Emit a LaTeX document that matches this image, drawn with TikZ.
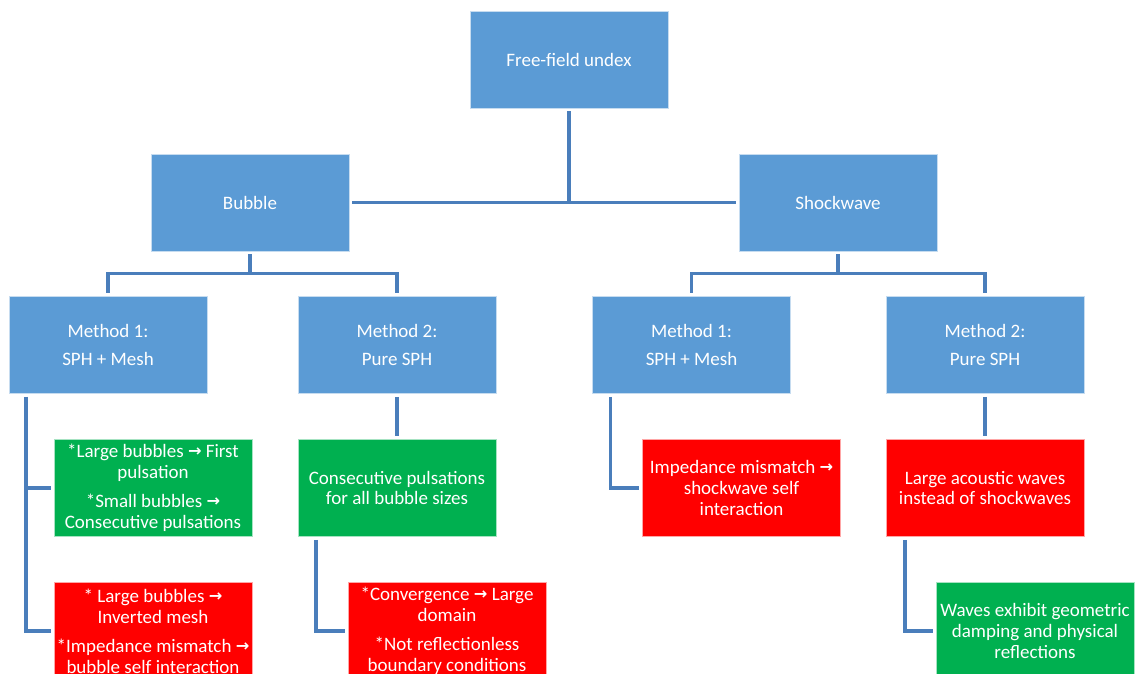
\documentclass[tikz,border=0pt]{standalone}
\usepackage{fontspec}
\setmainfont{Carlito}
\newfontfamily\arrowfont{DejaVu Sans}
\newcommand{\rarr}{\raisebox{0.6pt}{\arrowfont\bfseries\fontsize{11.5}{11.5}\selectfont →}}
\definecolor{boxblue}{HTML}{5B9BD5}
\definecolor{boxgreen}{HTML}{00B050}
\definecolor{boxred}{HTML}{FF0000}
\definecolor{linkblue}{HTML}{4A7EBB}

\begin{document}
\begin{tikzpicture}[x=0.025cm,y=0.025cm,
    bx/.style={rectangle,minimum width=4.95cm,minimum height=2.425cm,inner sep=0pt,outer sep=2.4pt,
        text=white,align=center,line width=0.4pt,font=\fontsize{13.5}{14.9}\selectfont},
    bl/.style={bx,fill=boxblue,draw=white!65!boxblue},
    gr/.style={bx,fill=boxgreen,draw=white!65!boxgreen},
    rd/.style={bx,fill=boxred,draw=white!65!boxred},
    ln/.style={draw=linkblue,line width=2.2pt}]
            \useasboundingbox (0,0) rectangle (1136,674);
            \clip (0,0) rectangle (1136,674);

            \node[bl] (free)   at (569,614.5) {Free-field undex};
            \node[bl] (bubble) at (250,471.5) {Bubble};
            \node[bl] (shock)  at (838,471.5) {Shockwave};

            \node[bl] (bm1) at (108,329)   {Method 1:\\[5.7pt]SPH + Mesh};
            \node[bl] (bm2) at (397,329)   {Method 2:\\[5.7pt]Pure SPH};
            \node[bl] (sm1) at (691.5,329) {Method 1:\\[5.7pt]SPH + Mesh};
            \node[bl] (sm2) at (985,329)   {Method 2:\\[5.7pt]Pure SPH};

            \node[gr] (bg1) at (153,186)   {*Large bubbles \rarr{} First\\pulsation\\[5.7pt]*Small bubbles \rarr\\Consecutive pulsations};
            \node[rd] (br1) at (153,43)    {* Large bubbles \rarr\\Inverted mesh\\[5.7pt]*Impedance mismatch \rarr\\bubble self interaction};
            \node[gr] (bg2) at (397,186)   {Consecutive pulsations\\for all bubble sizes};
            \node[rd] (br2) at (447,43)    {*Convergence \rarr{} Large\\domain\\[5.7pt]*Not reflectionless\\boundary conditions};
            \node[rd] (sr1) at (741.5,186) {Impedance mismatch \rarr\\shockwave self\\interaction};
            \node[rd] (sr2) at (985,186)   {Large acoustic waves\\instead of shockwaves};
            \node[gr] (sg)  at (1035,43)   {Waves exhibit geometric\\damping and physical\\reflections};

            % top level
            \draw[ln] (free.south) |- (bubble.east);
            \draw[ln] (free.south) |- (shock.west);

            % methods
            \draw[ln] (bubble.south) -- ++(0,-19) -| (bm1.north);
            \draw[ln] (bubble.south) -- ++(0,-19) -| (bm2.north);
            \draw[ln] (shock.south) -- ++(0,-19) -| (sm1.north);
            \draw[ln] (shock.south) -- ++(0,-19) -| (sm2.north);

            % results
            \draw[ln] ([xshift=0.51cm]bm1.south west) |- (bg1.west);
            \draw[ln] ([xshift=0.51cm]bm1.south west) |- (br1.west);
            \draw[ln] (bm2) -- (bg2);
            \draw[ln] ([xshift=0.535cm]bg2.south west) |- (br2.west);
            \draw[ln] ([xshift=0.535cm]sm1.south west) |- (sr1.west);
            \draw[ln] (sm2) -- (sr2);
            \draw[ln] ([xshift=0.56cm]sr2.south west) |- (sg.west);
        \end{tikzpicture}
\end{document}
